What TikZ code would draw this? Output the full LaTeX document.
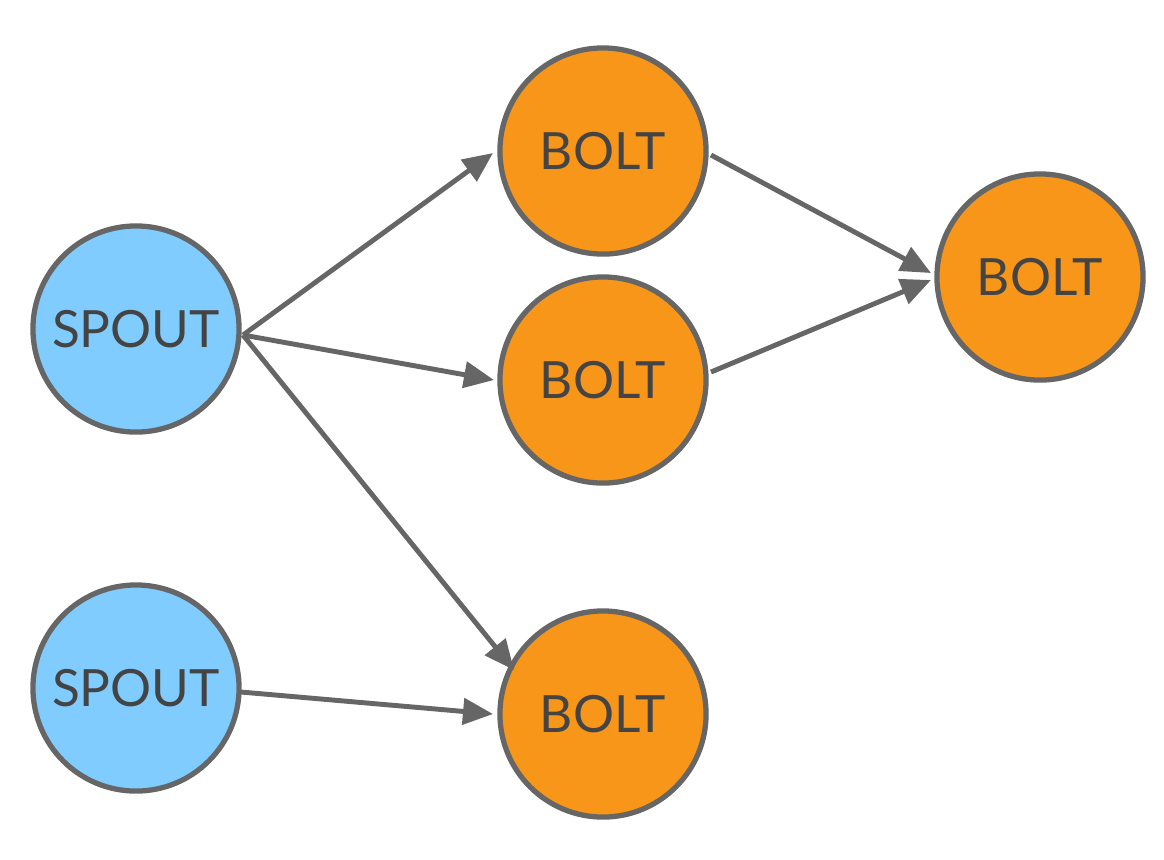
\documentclass[tikz,border=0pt]{standalone}
\usepackage{fontspec}
\setmainfont{Lato}
\usetikzlibrary{arrows.meta}
\definecolor{spoutblue}{HTML}{80CCFF}
\definecolor{boltorange}{HTML}{F8961A}
\definecolor{edgegrey}{HTML}{666666}
\definecolor{textgrey}{HTML}{444444}
\begin{document}
\begin{tikzpicture}[x=0.01cm,y=-0.01cm,
  comp/.style={circle,draw=edgegrey,line width=1.5pt,minimum size=2.06cm,inner sep=0pt,
    text=textgrey,font=\fontsize{14.6}{17}\selectfont},
  spout/.style={comp,fill=spoutblue},
  bolt/.style={comp,fill=boltorange},
  conn/.style={draw=edgegrey,line width=1.4pt,-{Triangle[length=0.3cm,width=0.26cm]}}]
\useasboundingbox (0,0) rectangle (1164,859);
\node[spout] (s1) at (136,329) {SPOUT};
\node[spout] (s2) at (136,688) {SPOUT};
\node[bolt] (b1) at (603,151) {BOLT};
\node[bolt] (b2) at (603,380) {BOLT};
\node[bolt] (b3) at (603,714) {BOLT};
\node[bolt] (b4) at (1040,277) {BOLT};
\coordinate (o1) at (243,335);
\coordinate (o2) at (241,692);
\coordinate (o3) at (711,155);
\coordinate (o4) at (711,372);
\coordinate (t1) at (493,153);
\coordinate (t2) at (494,380);
\coordinate (t3) at (514,670);
\coordinate (t4) at (493,714);
\coordinate (t5) at (931,273);
\coordinate (t6) at (931,280);
\draw[conn] (o1) -- (t1);
\draw[conn] (o1) -- (t2);
\draw[conn] (o1) -- (t3);
\draw[conn] (o2) -- (t4);
\draw[conn] (o3) -- (t5);
\draw[conn] (o4) -- (t6);
\end{tikzpicture}
\end{document}
